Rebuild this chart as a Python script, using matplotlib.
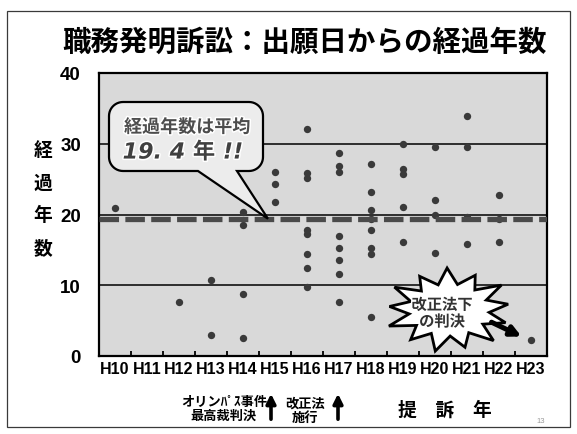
import numpy as np
import matplotlib
matplotlib.use("Agg")
import matplotlib.pyplot as plt
from matplotlib import font_manager, patheffects
from matplotlib.patches import Polygon, FancyArrowPatch, Rectangle

# ---- data -------------------------------------------------------------
categories = ["H10", "H11", "H12", "H13", "H14", "H15", "H16",
              "H17", "H18", "H19", "H20", "H21", "H22", "H23"]

# elapsed years from filing date, one list per lawsuit year
elapsed_years = [
    [20.9],                                            # H10
    [],                                                # H11
    [7.6],                                             # H12
    [10.7, 3.0],                                       # H13
    [20.4, 18.5, 8.7, 2.5],                            # H14
    [26.0, 24.3, 21.8],                                # H15
    [32.1, 25.9, 25.1, 17.8, 17.2, 14.4, 12.5, 9.8],   # H16
    [28.7, 26.9, 26.0, 16.9, 15.3, 13.6, 11.6, 7.7],   # H17
    [27.2, 23.2, 20.6, 19.3, 17.8, 15.2, 14.4, 5.5],   # H18
    [29.9, 26.5, 25.7, 21.1, 16.1],                    # H19
    [29.6, 22.1, 20.0, 14.5],                          # H20
    [33.9, 29.6, 19.7, 15.8],                          # H21
    [22.8, 19.4, 16.1],                                # H22
    [2.3],                                             # H23
]
mean_years = 19.4
y_ticks = [0, 10, 20, 30, 40]
grid_levels = [10, 20, 30]

# ---- fonts ------------------------------------------------------------
available = {f.name for f in font_manager.fontManager.ttflist}


def pick(*names):
    for n in names:
        if n in available:
            return n
    return None


CJK = pick("Noto Sans CJK JP", "Noto Sans CJK SC") or "DejaVu Sans"
SANS = pick("Liberation Sans", "DejaVu Sans") or "DejaVu Sans"
NARROW = pick("Liberation Sans Narrow", "DejaVu Sans Condensed")
if NARROW == "Liberation Sans Narrow":
    narrow_size = 13.5
elif NARROW == "DejaVu Sans Condensed":
    narrow_size = 11.5
else:
    NARROW, narrow_size = SANS, 11.5

# ---- figure layout (pixel helpers) ------------------------------------
W, H = 577, 435
fig = plt.figure(figsize=(W / 100, H / 100), dpi=100)
fig.patch.set_facecolor("white")

AX_L, AX_R, AX_T, AX_B = 99, 547, 74, 357


def fpos(x, y):
    """pixel (top-left origin) -> figure fraction"""
    return x / W, 1 - y / H


def data_px(x, y):
    """data coords -> pixel coords for the main axes"""
    return (AX_L + (x + 0.5) * (AX_R - AX_L) / len(categories),
            AX_B - y * (AX_B - AX_T) / 40.0)


# slide frame
fig.add_artist(Rectangle(fpos(7, 428), (570 - 7) / W, (428 - 12) / H,
                         transform=fig.transFigure, fill=False,
                         edgecolor="#3a3a3a", lw=0.9))

ax = fig.add_axes([AX_L / W, 1 - AX_B / H, (AX_R - AX_L) / W, (AX_B - AX_T) / H])
ax.set_facecolor("#d9d9d9")
ax.set_xlim(-0.5, len(categories) - 0.5)
ax.set_ylim(0, 40)

for g in grid_levels:
    ax.axhline(g, color="black", lw=1.1, zorder=1)

for i, vals in enumerate(elapsed_years):
    if vals:
        ax.scatter([i] * len(vals), vals, s=28, color="#3a3a3a",
                   linewidths=0, zorder=3)

ax.axhline(mean_years, color="#4a4a4a", lw=3.8, dashes=(3.7, 1.2), zorder=4)

for s in ax.spines.values():
    s.set_color("black")
    s.set_linewidth(1.6)

ax.set_yticks(y_ticks)
ax.set_yticklabels([str(v) for v in y_ticks], fontsize=13.5,
                   fontweight="bold", family=SANS)
ax.tick_params(axis="y", length=0, pad=13)

ax.set_xticks(range(len(categories)))
ax.set_xticklabels(categories, fontsize=narrow_size, fontweight="bold",
                   family=NARROW)
ax.tick_params(axis="x", which="major", length=0, pad=3.5)
ax.set_xticks(np.arange(0.5, len(categories) - 0.5, 1.0), minor=True)
ax.tick_params(axis="x", which="minor", direction="in", length=3.5,
               width=1.3, color="black")

# ---- title & axis labels ----------------------------------------------
fig.text(*fpos(305, 43), "職務発明訴訟：出願日からの経過年数",
         ha="center", va="center", fontsize=20.5, fontweight="bold",
         family=[CJK, "DejaVu Sans"])

for ch, yy in zip("経過年数", [150, 183, 216, 249]):
    fig.text(*fpos(43, yy), ch, ha="center", va="center", fontsize=13.5,
             fontweight="bold", family=[CJK, "DejaVu Sans"])

fig.text(*fpos(445, 410), "提　訴　年", ha="center", va="center",
         fontsize=13.5, fontweight="bold", family=[CJK, "DejaVu Sans"])

fig.text(*fpos(224, 409), "オリンﾊﾟｽ事件\n最高裁判決", ha="center",
         va="center", fontsize=9.5, fontweight="bold", linespacing=1.05,
         family=[CJK, "DejaVu Sans"])
fig.text(*fpos(305, 411), "改正法\n施行", ha="center", va="center",
         fontsize=9.5, fontweight="bold", linespacing=1.05,
         family=[CJK, "DejaVu Sans"])

for xa in (data_px(5, 0)[0] - 4, data_px(7, 0)[0] - 1):
    fig.add_artist(FancyArrowPatch(fpos(xa, 423), fpos(xa, 392),
                                   transform=fig.transFigure,
                                   arrowstyle="-|>", mutation_scale=14,
                                   lw=2.6, color="black"))

fig.text(*fpos(541, 422), "13", ha="center", va="center", fontsize=5.5,
         color="#9a9a9a", family=SANS)

# ---- speech bubble with the mean ----------------------------------------
x0, x1, y0, y1, r = 109, 263, 103, 172, 14
tip = data_px(4.78, mean_years)
pts = []
for cx, cy, t0, t1 in [(x0 + r, y0 + r, 180, 270), (x1 - r, y0 + r, 270, 360),
                       (x1 - r, y1 - r, 0, 90)]:
    for t in np.radians(np.linspace(t0, t1, 12)):
        pts.append((cx + r * np.cos(t), cy + r * np.sin(t)))
pts += [(237, y1), tip, (198, y1)]
for t in np.radians(np.linspace(90, 180, 12)):
    pts.append((x0 + r + r * np.cos(t), y1 - r + r * np.sin(t)))
fig.add_artist(Polygon([fpos(*p) for p in pts], closed=True,
                       transform=fig.transFigure, facecolor="#ececec",
                       edgecolor="black", lw=1.6, zorder=5))

stroke = [patheffects.withStroke(linewidth=2.2, foreground="white")]
fig.text(*fpos(187, 128), "経過年数は平均", ha="center", va="center",
         fontsize=13, fontweight="bold", color="#4d4d4d",
         family=[CJK, "DejaVu Sans"], path_effects=stroke, zorder=6)
fig.text(*fpos(183, 153), "19. 4 年 !!", ha="center", va="center",
         fontsize=16, fontweight="bold", style="italic", color="#404040",
         family=["DejaVu Sans", CJK], path_effects=stroke, zorder=6)

# ---- starburst note ---------------------------------------------------
cx, cy, rx, ry = 449, 311, 65, 42
n_spikes = 13
angles = np.linspace(0, 2 * np.pi, 2 * n_spikes, endpoint=False) + 0.15
radii = np.where(np.arange(2 * n_spikes) % 2 == 0, 1.0, 0.62)
radii[::4] *= 0.92
star = [(cx + rx * rr * np.cos(a), cy - ry * rr * np.sin(a))
        for a, rr in zip(angles, radii)]
fig.add_artist(Polygon([fpos(*p) for p in star], closed=True,
                       transform=fig.transFigure, facecolor="white",
                       edgecolor="black", lw=2.0, zorder=5))
fig.text(*fpos(442, 314), "改正法下\nの判決", ha="center", va="center",
         fontsize=11, fontweight="bold", color="#333333", linespacing=1.05,
         family=[CJK, "DejaVu Sans"], path_effects=stroke, zorder=6)

target = data_px(13, elapsed_years[-1][0])
fig.add_artist(FancyArrowPatch(fpos(489, 322), fpos(target[0] - 7, target[1] - 2),
                               transform=fig.transFigure, arrowstyle="-|>",
                               mutation_scale=15, lw=3.6, color="black",
                               zorder=7))

fig.savefig("out.png", dpi=100)
